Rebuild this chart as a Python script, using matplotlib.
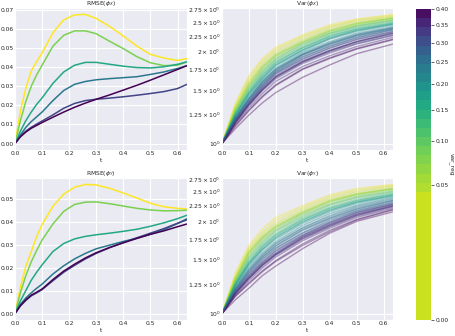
import numpy as np
import matplotlib
matplotlib.use("Agg")
import matplotlib.pyplot as plt
import seaborn as sns
from matplotlib.colors import ListedColormap, PowerNorm

sns.set_style("darkgrid")
plt.rcParams['font.family'] = ['DejaVu Sans']

# RMSE curves, sampled on t_rmse
t_rmse = [0, 0.02, 0.04, 0.06, 0.08, 0.1, 0.14, 0.18, 0.22, 0.26, 0.3, 0.35, 0.4, 0.45, 0.5, 0.55, 0.6, 0.635]

rmse_x = [
    [0, 0.017, 0.029, 0.038, 0.043, 0.0475, 0.058, 0.0648, 0.0674, 0.0676, 0.0655, 0.0613, 0.0563, 0.051, 0.0467, 0.0448, 0.0435, 0.0445],
    [0, 0.012, 0.022, 0.030, 0.036, 0.041, 0.051, 0.0567, 0.059, 0.059, 0.0575, 0.0535, 0.0497, 0.0455, 0.0423, 0.0408, 0.041, 0.0428],
    [0, 0.0065, 0.012, 0.0165, 0.0205, 0.0239, 0.0315, 0.0375, 0.041, 0.0425, 0.0425, 0.0415, 0.0405, 0.0398, 0.0396, 0.0402, 0.0415, 0.0428],
    [0, 0.0045, 0.0085, 0.0115, 0.014, 0.0165, 0.0225, 0.0278, 0.031, 0.0325, 0.0334, 0.034, 0.0345, 0.035, 0.0362, 0.0375, 0.0393, 0.0408],
    [0, 0.004, 0.0065, 0.0085, 0.0102, 0.0118, 0.015, 0.0185, 0.021, 0.0225, 0.0232, 0.0238, 0.0245, 0.0253, 0.0262, 0.0272, 0.0288, 0.031],
    [0, 0.0035, 0.006, 0.008, 0.0095, 0.011, 0.0138, 0.0165, 0.019, 0.0212, 0.0232, 0.0255, 0.028, 0.0305, 0.0332, 0.036, 0.0388, 0.0408],
]
rmse_y = [
    [0, 0.0115, 0.0205, 0.027, 0.0335, 0.0387, 0.0467, 0.052, 0.055, 0.0562, 0.056, 0.0545, 0.0525, 0.0503, 0.048, 0.0465, 0.0458, 0.0455],
    [0, 0.009, 0.0165, 0.0225, 0.0275, 0.032, 0.039, 0.0445, 0.0475, 0.0485, 0.0486, 0.0478, 0.0468, 0.0458, 0.0451, 0.0447, 0.0448, 0.045],
    [0, 0.0055, 0.010, 0.0145, 0.018, 0.0212, 0.027, 0.0305, 0.0325, 0.0336, 0.0343, 0.035, 0.0358, 0.0367, 0.038, 0.0395, 0.0413, 0.0428],
    [0, 0.004, 0.0068, 0.009, 0.011, 0.0128, 0.0172, 0.0208, 0.0238, 0.0262, 0.0282, 0.0298, 0.0314, 0.0328, 0.0345, 0.0365, 0.0392, 0.0413],
    [0, 0.0033, 0.0057, 0.0077, 0.009, 0.0104, 0.0143, 0.018, 0.021, 0.0238, 0.0262, 0.0287, 0.0309, 0.033, 0.035, 0.037, 0.0393, 0.0408],
    [0, 0.0035, 0.006, 0.008, 0.0093, 0.0107, 0.0148, 0.0185, 0.0215, 0.0242, 0.0265, 0.0288, 0.0308, 0.0327, 0.0345, 0.036, 0.0378, 0.039],
]
rmse_colors = ['#fde725', '#7ad151', '#22a884', '#2a788e', '#414487', '#440154']

# Variance curves, sampled on t_var, one var_reg value per curve
t_var = [0, 0.05, 0.1, 0.15, 0.2, 0.3, 0.4, 0.5, 0.635]

var_reg_x = [0.01, 0.02, 0.03, 0.04, 0.05, 0.06, 0.07, 0.08, 0.09, 0.10, 0.12, 0.13, 0.15, 0.16, 0.18, 0.19, 0.20,
             0.22, 0.24, 0.25, 0.27, 0.29, 0.31, 0.32, 0.33, 0.34, 0.35, 0.36, 0.37, 0.38, 0.39, 0.40, 0.30, 0.26]
var_x = [
    [1, 1.36, 1.67, 1.90, 2.07, 2.27, 2.45, 2.56, 2.65],
    [1, 1.34, 1.64, 1.87, 2.04, 2.25, 2.42, 2.54, 2.63],
    [1, 1.32, 1.61, 1.84, 2.01, 2.22, 2.40, 2.52, 2.61],
    [1, 1.31, 1.59, 1.81, 1.98, 2.19, 2.37, 2.49, 2.59],
    [1, 1.30, 1.57, 1.79, 1.96, 2.17, 2.35, 2.48, 2.58],
    [1, 1.29, 1.55, 1.77, 1.94, 2.15, 2.33, 2.46, 2.57],
    [1, 1.30, 1.56, 1.78, 1.95, 2.15, 2.34, 2.47, 2.58],
    [1, 1.28, 1.53, 1.75, 1.92, 2.13, 2.31, 2.44, 2.55],
    [1, 1.27, 1.52, 1.73, 1.90, 2.12, 2.30, 2.43, 2.54],
    [1, 1.27, 1.51, 1.72, 1.89, 2.10, 2.29, 2.42, 2.53],
    [1, 1.26, 1.49, 1.70, 1.87, 2.08, 2.27, 2.40, 2.51],
    [1, 1.25, 1.47, 1.67, 1.84, 2.06, 2.24, 2.37, 2.48],
    [1, 1.25, 1.48, 1.68, 1.85, 2.06, 2.25, 2.38, 2.49],
    [1, 1.24, 1.46, 1.65, 1.82, 2.03, 2.22, 2.35, 2.47],
    [1, 1.23, 1.44, 1.63, 1.80, 2.01, 2.20, 2.33, 2.45],
    [1, 1.24, 1.45, 1.64, 1.81, 2.03, 2.21, 2.35, 2.46],
    [1, 1.22, 1.42, 1.61, 1.77, 1.99, 2.16, 2.30, 2.42],
    [1, 1.21, 1.40, 1.58, 1.74, 1.96, 2.12, 2.26, 2.38],
    [1, 1.22, 1.41, 1.60, 1.76, 1.97, 2.14, 2.28, 2.40],
    [1, 1.20, 1.38, 1.56, 1.72, 1.93, 2.09, 2.23, 2.36],
    [1, 1.21, 1.39, 1.57, 1.73, 1.95, 2.11, 2.25, 2.38],
    [1, 1.19, 1.37, 1.54, 1.70, 1.90, 2.06, 2.20, 2.33],
    [1, 1.18, 1.35, 1.52, 1.67, 1.87, 2.02, 2.15, 2.29],
    [1, 1.19, 1.36, 1.53, 1.69, 1.89, 2.05, 2.19, 2.33],
    [1, 1.18, 1.34, 1.50, 1.65, 1.85, 2.00, 2.13, 2.27],
    [1, 1.17, 1.33, 1.49, 1.63, 1.83, 1.98, 2.12, 2.26],
    [1, 1.18, 1.35, 1.51, 1.66, 1.86, 2.02, 2.16, 2.31],
    [1, 1.16, 1.31, 1.46, 1.60, 1.79, 1.94, 2.08, 2.23],
    [1, 1.17, 1.34, 1.50, 1.65, 1.85, 2.01, 2.16, 2.30],
    [1, 1.15, 1.29, 1.43, 1.56, 1.76, 1.91, 2.05, 2.20],
    [1, 1.14, 1.28, 1.42, 1.55, 1.75, 1.90, 2.04, 2.19],
    [1, 1.12, 1.24, 1.36, 1.47, 1.65, 1.81, 1.97, 2.12],
    [1, 1.20, 1.37, 1.55, 1.71, 1.92, 2.08, 2.22, 2.36],
    [1, 1.21, 1.40, 1.59, 1.75, 1.96, 2.13, 2.27, 2.40],
]

var_reg_y = var_reg_x
var_y = [
    [1, 1.36, 1.67, 1.89, 2.06, 2.25, 2.44, 2.56, 2.64],
    [1, 1.34, 1.64, 1.85, 2.02, 2.22, 2.41, 2.53, 2.62],
    [1, 1.32, 1.62, 1.82, 1.98, 2.19, 2.38, 2.50, 2.60],
    [1, 1.31, 1.60, 1.79, 1.95, 2.16, 2.35, 2.47, 2.57],
    [1, 1.30, 1.59, 1.78, 1.93, 2.15, 2.34, 2.46, 2.56],
    [1, 1.29, 1.57, 1.76, 1.91, 2.13, 2.32, 2.44, 2.55],
    [1, 1.30, 1.58, 1.77, 1.92, 2.13, 2.32, 2.45, 2.56],
    [1, 1.28, 1.55, 1.74, 1.89, 2.11, 2.29, 2.42, 2.53],
    [1, 1.27, 1.53, 1.72, 1.87, 2.09, 2.27, 2.40, 2.51],
    [1, 1.27, 1.52, 1.70, 1.86, 2.07, 2.26, 2.39, 2.50],
    [1, 1.26, 1.50, 1.68, 1.83, 2.05, 2.23, 2.36, 2.48],
    [1, 1.25, 1.47, 1.65, 1.80, 2.02, 2.20, 2.33, 2.45],
    [1, 1.25, 1.48, 1.66, 1.81, 2.03, 2.21, 2.34, 2.46],
    [1, 1.24, 1.46, 1.63, 1.78, 2.00, 2.18, 2.31, 2.43],
    [1, 1.23, 1.44, 1.61, 1.75, 1.97, 2.15, 2.29, 2.41],
    [1, 1.24, 1.45, 1.62, 1.77, 1.99, 2.17, 2.31, 2.43],
    [1, 1.22, 1.42, 1.58, 1.72, 1.94, 2.12, 2.26, 2.39],
    [1, 1.21, 1.39, 1.55, 1.69, 1.90, 2.07, 2.22, 2.35],
    [1, 1.21, 1.40, 1.56, 1.70, 1.91, 2.09, 2.24, 2.37],
    [1, 1.19, 1.36, 1.51, 1.64, 1.84, 2.02, 2.17, 2.31],
    [1, 1.20, 1.38, 1.53, 1.67, 1.88, 2.05, 2.20, 2.34],
    [1, 1.18, 1.34, 1.48, 1.61, 1.81, 1.98, 2.14, 2.28],
    [1, 1.17, 1.31, 1.45, 1.57, 1.78, 1.95, 2.11, 2.25],
    [1, 1.18, 1.33, 1.47, 1.60, 1.80, 1.98, 2.14, 2.28],
    [1, 1.17, 1.31, 1.44, 1.56, 1.76, 1.93, 2.09, 2.24],
    [1, 1.16, 1.30, 1.43, 1.55, 1.75, 1.92, 2.08, 2.23],
    [1, 1.17, 1.32, 1.46, 1.58, 1.79, 1.96, 2.12, 2.27],
    [1, 1.15, 1.28, 1.41, 1.53, 1.73, 1.90, 2.06, 2.21],
    [1, 1.16, 1.30, 1.44, 1.56, 1.77, 1.94, 2.10, 2.25],
    [1, 1.14, 1.26, 1.38, 1.49, 1.69, 1.87, 2.03, 2.19],
    [1, 1.14, 1.25, 1.37, 1.48, 1.67, 1.85, 2.02, 2.18],
    [1, 1.11, 1.21, 1.33, 1.43, 1.63, 1.83, 2.00, 2.15],
    [1, 1.19, 1.35, 1.50, 1.63, 1.83, 2.00, 2.16, 2.30],
    [1, 1.20, 1.37, 1.53, 1.66, 1.87, 2.04, 2.19, 2.33],
]

cbar_ticks = [0.0, 0.05, 0.10, 0.15, 0.20, 0.25, 0.30, 0.35, 0.40]
VMAX = 0.4

FS = 4.3
W, H = 456, 336
fig = plt.figure(figsize=(W / 100, H / 100), dpi=100)

def px_axes(x0, y0, x1, y1):
    return fig.add_axes([x0 / W, 1 - y1 / H, (x1 - x0) / W, (y1 - y0) / H])

ax_rx = px_axes(15, 8, 187, 150)
ax_vx = px_axes(222, 8, 393, 150)
ax_ry = px_axes(15, 178, 187, 320)
ax_vy = px_axes(222, 178, 393, 320)
cax = px_axes(416, 9, 431, 320)

vir = plt.get_cmap('viridis_r')

for ax, curves, title in [(ax_rx, rmse_x, r'RMSE($\phi_X$)'), (ax_ry, rmse_y, r'RMSE($\phi_Y$)')]:
    for vals, c in zip(curves, rmse_colors):
        ax.plot(t_rmse, vals, color=c, lw=1.1)
    ax.set_xlim(0, t_rmse[-1])
    ax.set_title(title, fontsize=FS, pad=2)
    ax.set_xlabel('t', fontsize=FS, labelpad=1)

for ax, curves, regs, title in [(ax_vx, var_x, var_reg_x, r'Var($\phi_X$)'),
                                (ax_vy, var_y, var_reg_y, r'Var($\phi_Y$)')]:
    for vals, v in zip(curves, regs):
        ax.plot(t_var, vals, color=vir(v / VMAX), lw=1.0, alpha=0.4)
    ax.set_yscale('log')
    ax.set_xlim(0, t_var[-1])
    ax.set_title(title, fontsize=FS, pad=2)
    ax.set_xlabel('t', fontsize=FS, labelpad=1)

for ax in [ax_rx, ax_vx, ax_ry, ax_vy]:
    ax.tick_params(axis='both', which='both', labelsize=FS, pad=1, length=0)

# colorbar: power-scaled axis, banded colours, flat band at the bottom
gamma = 0.4
nbands, nflat = 34, 14
band_cols = []
for i in range(nbands):
    f = (max(i, nflat - 1) + 0.5) / nbands
    if i < nflat:
        band_cols.append(vir(0.08))
    else:
        band_cols.append(vir(f ** (1 / gamma)))
cmap = ListedColormap(band_cols)
norm = PowerNorm(gamma=gamma, vmin=0, vmax=VMAX)
sm = plt.cm.ScalarMappable(norm=norm, cmap=cmap)
cb = fig.colorbar(sm, cax=cax, ticks=cbar_ticks)
cb.outline.set_visible(False)
cb.ax.set_yticklabels(['%.2f' % v for v in cbar_ticks])
cb.ax.tick_params(labelsize=FS, length=2, width=0.5, pad=1)
cb.set_label('var_reg', fontsize=FS, rotation=270, labelpad=4)

fig.savefig('out.png', dpi=100)
